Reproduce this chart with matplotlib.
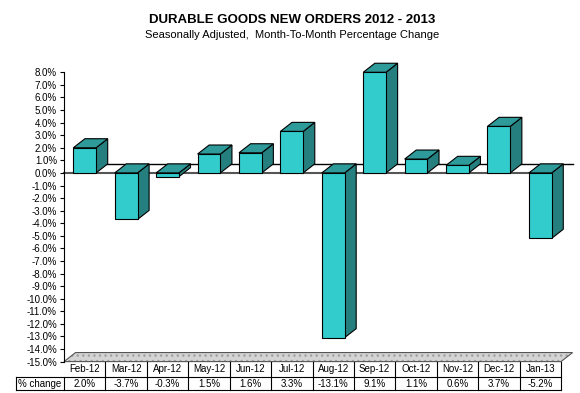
import matplotlib
matplotlib.use("Agg")
import matplotlib.pyplot as plt
from matplotlib.patches import Polygon, Rectangle
from matplotlib.ticker import FuncFormatter, MultipleLocator
import matplotlib.transforms as mtrans

months = ['Feb-12', 'Mar-12', 'Apr-12', 'May-12', 'Jun-12', 'Jul-12',
          'Aug-12', 'Sep-12', 'Oct-12', 'Nov-12', 'Dec-12', 'Jan-13']
pct_change = [2.0, -3.7, -0.3, 1.5, 1.6, 3.3, -13.1, 9.1, 1.1, 0.6, 3.7, -5.2]
row_label = '% change'

plt.rcParams['font.family'] = ['Liberation Sans', 'DejaVu Sans']

ymin, ymax = -15, 8
dx, dy = 0.28, 0.72   # 3d depth offset (categories, percent)
hw = 0.275            # half width of bar front

front_col = '#33CCCC'
top_col = '#2E9A9A'
side_col = '#267F7F'

fig = plt.figure(figsize=(5.8, 3.93), dpi=100)
ax = fig.add_axes([64 / 580, (393 - 361.6) / 393, 497 / 580, 289.3 / 393])
ax.set_xlim(-0.5, len(months) - 0.5)
ax.set_ylim(ymin, ymax)

# floor (dotted grey fill, then outline)
x0, x1 = -0.5, len(months) - 0.5
floor = [(x0, ymin), (x0 + dx, ymin + dy), (x1 + dx, ymin + dy), (x1, ymin)]
ax.add_patch(Polygon(floor, closed=True, facecolor='#D4D4D4', edgecolor='#A0A0A0', lw=0,
                     hatch='...', clip_on=False, zorder=1))
ax.add_patch(Polygon(floor, closed=True, fill=False, edgecolor='#555555', lw=0.8,
                     clip_on=False, zorder=1))

# zero plane lines
ax.plot([x0 + dx, x1 + dx], [dy, dy], color='black', lw=1.0, clip_on=False, zorder=1)
ax.plot([x0, x1], [0, 0], color='#555555', lw=1.5, clip_on=False, zorder=1)

for i, v in enumerate(pct_change):
    if v >= 0:
        b, t = 0, min(v, ymax)
    else:
        b, t = v, 0
    side = [(i + hw, b), (i + hw + dx, b + dy), (i + hw + dx, t + dy), (i + hw, t)]
    top = [(i - hw, t), (i - hw + dx, t + dy), (i + hw + dx, t + dy), (i + hw, t)]
    ax.add_patch(Polygon(side, closed=True, facecolor=side_col, edgecolor='black',
                         lw=0.8, clip_on=False, zorder=3))
    ax.add_patch(Polygon(top, closed=True, facecolor=top_col, edgecolor='black',
                         lw=0.8, clip_on=False, zorder=3))
    ax.add_patch(Rectangle((i - hw, b), 2 * hw, t - b, facecolor=front_col,
                           edgecolor='black', lw=0.8, clip_on=False, zorder=4))

# axes styling
for s in ['top', 'right', 'bottom']:
    ax.spines[s].set_visible(False)
ax.spines['left'].set_linewidth(0.8)
ax.yaxis.set_major_locator(MultipleLocator(1))
ax.yaxis.set_major_formatter(FuncFormatter(lambda v, p: f'{v:.1f}%'))
ax.tick_params(axis='y', labelsize=7, length=3, width=0.8, pad=2)
ax.set_xticks([])

# data table
tr = mtrans.blended_transform_factory(ax.transData, ax.transAxes)
hdr_y, row_y = -0.027, -0.076
tbl_top, tbl_bot, hdr_top = -0.053, -0.098, 0.0
lab_x0 = -1.66
for i, (m, v) in enumerate(zip(months, pct_change)):
    ax.text(i, hdr_y, m, transform=tr, ha='center', va='center', fontsize=7, clip_on=False)
    ax.text(i, row_y, f'{v:.1f}%', transform=tr, ha='center', va='center', fontsize=7,
            clip_on=False)
    ax.plot([i + 0.5, i + 0.5], [hdr_top, tbl_bot], transform=tr, color='black', lw=0.8,
            clip_on=False)
ax.plot([-0.5, -0.5], [tbl_top, tbl_bot], transform=tr, color='black', lw=0.8, clip_on=False)
ax.plot([lab_x0, lab_x0], [tbl_top, tbl_bot], transform=tr, color='black', lw=0.8, clip_on=False)
ax.plot([lab_x0, x1], [tbl_top, tbl_top], transform=tr, color='black', lw=0.8, clip_on=False)
ax.plot([lab_x0, x1], [tbl_bot, tbl_bot], transform=tr, color='black', lw=0.8, clip_on=False)
ax.text(lab_x0 + 0.04, row_y, row_label, transform=tr, ha='left', va='center', fontsize=7,
        clip_on=False)

fig.text(292 / 580, 1 - 20 / 393, 'DURABLE GOODS NEW ORDERS 2012 - 2013', ha='center',
         va='center', fontsize=9.5, fontweight='bold')
fig.text(292 / 580, 1 - 35 / 393, 'Seasonally Adjusted,  Month-To-Month Percentage Change',
         ha='center', va='center', fontsize=8)

fig.savefig('out.png', dpi=100)
